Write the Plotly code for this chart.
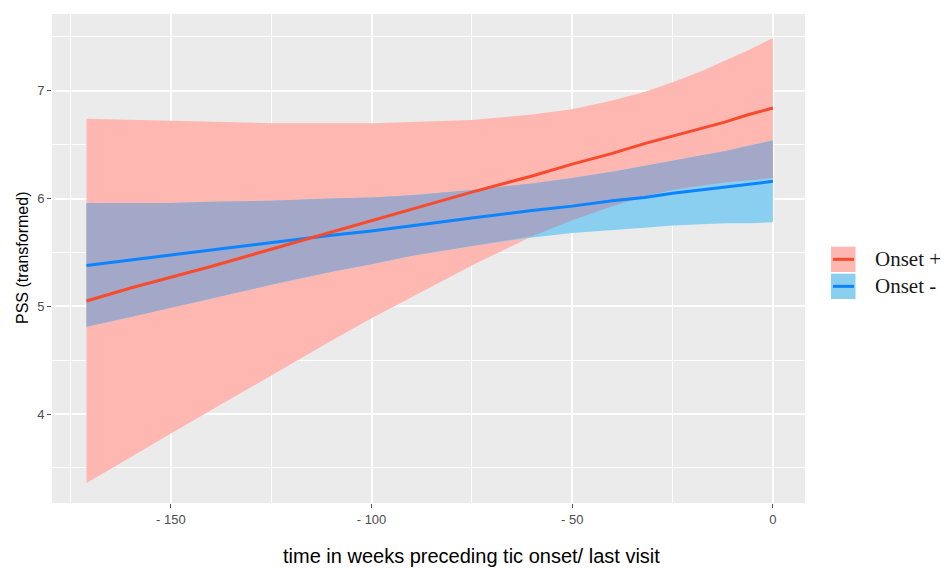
import numpy as np
import plotly.graph_objects as go

# ---- data ----
weeks = [-171, -160, -150, -140, -125, -110, -100, -90, -75, -60, -50, -40, -32, -25, -18, -12, -6, 0]

onset_pos_fit   = [5.05, 5.17, 5.27, 5.37, 5.53, 5.69, 5.79, 5.90, 6.06, 6.21, 6.32, 6.42, 6.51, 6.58, 6.65, 6.71, 6.78, 6.84]
onset_pos_upper = [6.74, 6.73, 6.72, 6.71, 6.70, 6.70, 6.70, 6.71, 6.73, 6.78, 6.83, 6.91, 6.99, 7.08, 7.18, 7.28, 7.38, 7.49]
onset_pos_lower = [3.36, 3.60, 3.82, 4.04, 4.36, 4.68, 4.89, 5.09, 5.38, 5.65, 5.80, 5.93, 6.02, 6.08, 6.12, 6.15, 6.17, 6.19]

onset_neg_fit   = [5.38, 5.43, 5.48, 5.52, 5.59, 5.66, 5.70, 5.75, 5.82, 5.89, 5.93, 5.98, 6.01, 6.05, 6.08, 6.11, 6.13, 6.16]
onset_neg_upper = [5.96, 5.96, 5.96, 5.97, 5.98, 6.00, 6.01, 6.03, 6.08, 6.14, 6.19, 6.25, 6.30, 6.35, 6.40, 6.44, 6.49, 6.54]
onset_neg_lower = [4.81, 4.90, 4.99, 5.07, 5.20, 5.32, 5.39, 5.47, 5.56, 5.64, 5.68, 5.71, 5.73, 5.75, 5.76, 5.77, 5.77, 5.78]

series_names = ["Onset +", "Onset -"]
x_tickvals = [-150, -100, -50, 0]
x_ticktext = ["- 150", "- 100", "- 50", "0"]
y_tickvals = [4, 5, 6, 7]

# ---- styling ----
PINK = "#FFB7B2"
SKY = "#8BCFF0"
OVERLAP = "#A3A8C8"
RED = "#F94A2C"
BLUE = "#0A84FF"
PANEL = "#EBEBEB"

fig = go.Figure()

def band(x, up, lo, color):
    fig.add_trace(go.Scatter(
        x=list(x) + list(x)[::-1], y=list(up) + list(lo)[::-1],
        fill="toself", fillcolor=color, line=dict(width=0),
        mode="lines", hoverinfo="skip", showlegend=False))

band(weeks, onset_pos_upper, onset_pos_lower, PINK)
band(weeks, onset_neg_upper, onset_neg_lower, SKY)
ov_up = np.minimum(onset_pos_upper, onset_neg_upper)
ov_lo = np.maximum(onset_pos_lower, onset_neg_lower)
band(weeks, ov_up, ov_lo, OVERLAP)

fig.add_trace(go.Scatter(x=weeks, y=onset_neg_fit, mode="lines",
                         line=dict(color=BLUE, width=3), name=series_names[1], showlegend=False))
fig.add_trace(go.Scatter(x=weeks, y=onset_pos_fit, mode="lines",
                         line=dict(color=RED, width=3), name=series_names[0], showlegend=False))

# ---- layout geometry (page has an 8px body margin) ----
OFF = 8
FW, FH = 948 - OFF, 570 - OFF
L, T = 52 - OFF, 14 - OFF
R = FW - (805 - OFF)
B = FH - (503 - OFF)
W, H = FW - L - R, FH - T - B

def px(p):
    return (p - OFF - L) / W
def py(p):
    return (FH - B - (p - OFF)) / H

# ---- manual legend (ggplot style keys) ----
keys = [(PINK, RED, 246.7, 272.0), (SKY, BLUE, 273.7, 299.0)]
for (fc, lc, y0, y1), name in zip(keys, series_names):
    fig.add_shape(type="rect", xref="paper", yref="paper",
                  x0=px(831), x1=px(855.5), y0=py(y1), y1=py(y0),
                  fillcolor=fc, line=dict(width=0), layer="above")
    ym = (y0 + y1) / 2
    fig.add_shape(type="line", xref="paper", yref="paper",
                  x0=px(833), x1=px(854), y0=py(ym), y1=py(ym),
                  line=dict(color=lc, width=3), layer="above")
    fig.add_annotation(xref="paper", yref="paper", x=px(873), y=py(ym),
                       text=name, showarrow=False, xanchor="left", yanchor="middle",
                       font=dict(family="Liberation Serif", size=21, color="#1A1A1A"))

# axis titles as annotations
fig.add_annotation(xref="paper", yref="paper", x=px(472), y=py(556),
                   text="time in weeks preceding tic onset/ last visit", showarrow=False,
                   xanchor="center", yanchor="middle",
                   font=dict(family="Liberation Sans", size=20, color="#000000"))
fig.add_annotation(xref="paper", yref="paper", x=px(23), y=py(258),
                   text="PSS (transformed)", showarrow=False, textangle=-90,
                   xanchor="center", yanchor="middle",
                   font=dict(family="Liberation Sans", size=16, color="#000000"))

fig.update_layout(
    width=FW, height=FH,
    margin=dict(l=L, r=R, t=T, b=B, autoexpand=False),
    paper_bgcolor="white", plot_bgcolor=PANEL,
    showlegend=False,
    font=dict(family="Liberation Sans", color="#4D4D4D"),
)
fig.update_xaxes(
    range=[-179.6, 8.0], tickvals=x_tickvals, ticktext=x_ticktext,
    ticks="outside", ticklen=4, tickcolor="#555555", tickwidth=1,
    tickfont=dict(size=13, color="#4D4D4D"),
    showgrid=True, gridcolor="white", gridwidth=1.6,
    minor=dict(tickvals=[-175, -125, -75, -25], showgrid=True, gridcolor="white", gridwidth=0.8),
    zeroline=False, showline=False, automargin=False,
)
fig.update_yaxes(
    range=[3.175, 7.713], tickvals=y_tickvals,
    ticks="outside", ticklen=4, tickcolor="#555555", tickwidth=1,
    tickfont=dict(size=13, color="#4D4D4D"),
    showgrid=True, gridcolor="white", gridwidth=1.6,
    minor=dict(tickvals=[3.5, 4.5, 5.5, 6.5, 7.5], showgrid=True, gridcolor="white", gridwidth=0.8),
    zeroline=False, showline=False, automargin=False,
)

fig.write_html("out.html")
